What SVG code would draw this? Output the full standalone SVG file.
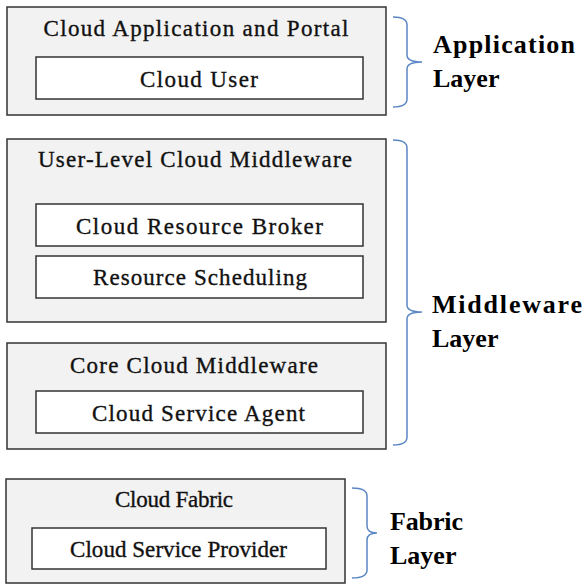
<svg xmlns="http://www.w3.org/2000/svg" width="584" height="585" viewBox="0 0 584 585">
<style>
.outer{fill:#f2f2f2;stroke:#333;stroke-width:1.5}
.inner{fill:#fff;stroke:#333;stroke-width:1.5}
.t{font-size:23px;fill:#111;stroke:#111;stroke-width:0.35;text-anchor:middle}
.lbl{font-size:26px;font-weight:bold;fill:#000}
.brace{fill:none;stroke:#5b87c5;stroke-width:1.5}
</style>
<rect width="584" height="585" fill="#fff"/>
<g font-family="'Liberation Serif', 'DejaVu Serif', 'Noto Serif', Times, serif">
<g id="app-layer">
<rect class="outer" x="7" y="7" width="379" height="108"/>
<text class="t" x="196" y="36" textLength="305" lengthAdjust="spacing">Cloud Application and Portal</text>
<g id="cloud-user">
<rect class="inner" x="36" y="57" width="327" height="42"/>
<text class="t" x="199" y="87" textLength="118" lengthAdjust="spacing">Cloud User</text>
</g>
</g>
<g id="user-level-middleware">
<rect class="outer" x="7" y="139" width="379" height="183"/>
<text class="t" x="195" y="167" textLength="314" lengthAdjust="spacing">User-Level Cloud Middleware</text>
<g id="resource-broker">
<rect class="inner" x="36" y="204" width="327" height="42"/>
<text class="t" x="199.5" y="234" textLength="247" lengthAdjust="spacing">Cloud Resource Broker</text>
</g>
<g id="resource-scheduling">
<rect class="inner" x="36" y="256" width="327" height="42"/>
<text class="t" x="200" y="285" textLength="214" lengthAdjust="spacing">Resource Scheduling</text>
</g>
</g>
<g id="core-middleware">
<rect class="outer" x="7" y="343" width="379" height="106"/>
<text class="t" x="194" y="373" textLength="248" lengthAdjust="spacing">Core Cloud Middleware</text>
<g id="service-agent">
<rect class="inner" x="36" y="391" width="327" height="42"/>
<text class="t" x="198.5" y="421" textLength="213" lengthAdjust="spacing">Cloud Service Agent</text>
</g>
</g>
<g id="fabric">
<rect class="outer" x="6" y="479" width="339" height="104"/>
<text class="t" x="174" y="507" textLength="118" lengthAdjust="spacing">Cloud Fabric</text>
<g id="service-provider">
<rect class="inner" x="32" y="528" width="294" height="41"/>
<text class="t" x="178.5" y="557" textLength="217" lengthAdjust="spacing">Cloud Service Provider</text>
</g>
</g>
<g id="connectors">
<path class="brace" d="M393,17 Q407,17 407,25 L407,55 Q407,62 422,62 Q407,62 407,69 L407,99 Q407,107 393,107"/>
<path class="brace" d="M393,140 Q407,140 407,148 L407,305 Q407,312 422,312 Q407,312 407,319 L407,437 Q407,445 393,445"/>
<path class="brace" d="M352,488 Q367,488 367,496 L367,526 Q367,533 377,533 Q367,533 367,540 L367,570 Q367,578 352,578"/>
</g>
<g id="labels">
<text class="lbl" x="433" y="53" textLength="142" lengthAdjust="spacing">Application</text>
<text class="lbl" x="433" y="87">Layer</text>
<text class="lbl" x="432" y="313" textLength="150" lengthAdjust="spacing">Middleware</text>
<text class="lbl" x="432" y="347">Layer</text>
<text class="lbl" x="390" y="530" textLength="73" lengthAdjust="spacing">Fabric</text>
<text class="lbl" x="390" y="564">Layer</text>
</g>
</g>
</svg>
